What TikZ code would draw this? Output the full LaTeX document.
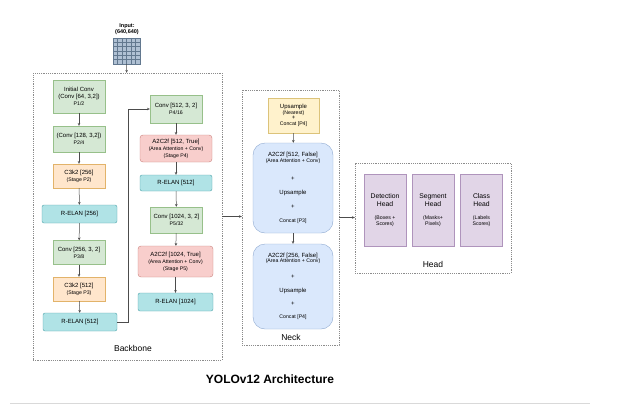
\documentclass[tikz,border=0pt]{standalone}
\usepackage{fontspec}
\setmainfont{Liberation Sans}
\usetikzlibrary{arrows.meta}
\definecolor{convfill}{HTML}{D5E8D4}\definecolor{convline}{HTML}{97C08A}
\definecolor{cfill}{HTML}{FFE6CC}\definecolor{cline}{HTML}{E2B36A}
\definecolor{elanfill}{HTML}{B0E3E6}\definecolor{elanline}{HTML}{4FA3A9}
\definecolor{attnfill}{HTML}{F8CECC}\definecolor{attnline}{HTML}{C9807C}
\definecolor{upfill}{HTML}{FFF2CC}\definecolor{upline}{HTML}{DCC37A}
\definecolor{neckfill}{HTML}{DAE8FC}\definecolor{neckline}{HTML}{8FA9D0}
\definecolor{headfill}{HTML}{E1D5E7}\definecolor{headline}{HTML}{AF94BC}
\definecolor{imgfill}{HTML}{AFC0D3}\definecolor{imgline}{HTML}{62788F}
\newcommand{\smalltxt}[1]{{\fontsize{5.2}{6}\selectfont #1}}
\tikzset{
  box/.style={draw, align=center, inner sep=0pt, font=\fontsize{6}{7}\selectfont},
  kconv/.style={box, fill=convfill, draw=convline, minimum width=52},
  kcsp/.style={box, fill=cfill, draw=cline, minimum width=52, minimum height=24},
  kelan/.style={box, rounded corners=2pt, fill=elanfill, draw=elanline, minimum height=18},
  kattn/.style={box, rounded corners=3pt, fill=attnfill, draw=attnline},
  kup/.style={box, fill=upfill, draw=upline},
  kneck/.style={box, rounded corners=12pt, fill=neckfill, draw=neckline, minimum width=80},
  khead/.style={box, fill=headfill, draw=headline, minimum width=42, minimum height=72, font=\fontsize{6.8}{8}\selectfont},
  group/.style={draw=black!45, dash pattern=on 1.2pt off 1pt, inner sep=0pt},
  grouplbl/.style={font=\fontsize{8.5}{10}\selectfont},
  flow/.style={-{Stealth[length=2.8pt, width=2.6pt]}, draw=black!70, line width=0.5pt},
}

\begin{document}
\begin{tikzpicture}[x=1pt, y=-1pt]
    \useasboundingbox (0,0) rectangle (627,413);
    % containers
    \node[group, minimum width=189, minimum height=287] (backbone) at (127.5,216.5) {};
    \node[group, minimum width=97, minimum height=255] (neck) at (290.5,217.5) {};
    \node[group, minimum width=156, minimum height=110] (headgrp) at (433,218) {};
    \node[grouplbl] (bblbl) at (133,348) {Backbone};
    \node[grouplbl] (necklbl) at (291,337) {Neck};
    \node[grouplbl] (headlbl) at (433,264) {Head};

    % input
    \node[font=\fontsize{5.5}{6}\selectfont\bfseries, align=center] (inlbl) at (127,29) {Input:\\(640,640)};
    \node[draw=imgline, fill=imgfill, minimum width=27, minimum height=26, inner sep=0pt] (img) at (126.5,51) {};
    \foreach \i in {1,...,5} {
      \draw[imgline, line width=0.4pt] ([xshift=\i*4.5pt]img.north west) -- ([xshift=\i*4.5pt]img.south west);
      \draw[imgline, line width=0.4pt] ([yshift=-\i*4.33pt]img.north west) -- ([yshift=-\i*4.33pt]img.north east);
    }
    \draw[flow] (img) -- (backbone);

    % backbone, left column
    \node[kconv, minimum height=33] (init) at (79,96.5) {Initial Conv\\(Conv [64, 3,2])\\\smalltxt{P1/2}};
    \node[kconv, minimum height=26] (conv2) at (79,139) {(Conv [128, 3,2])\\\smalltxt{P2/4}};
    \node[kcsp] (cthree) at (79,176) {C3k2 [256]\\\smalltxt{(Stage P2)}};
    \node[kelan, minimum width=75] (elan1) at (79.5,214) {R-ELAN [256]};
    \node[kconv, minimum height=24] (conv3) at (79,252.5) {Conv [256, 3, 2]\\\smalltxt{P3/8}};
    \node[kcsp] (cfour) at (79,289) {C3k2 [512]\\\smalltxt{(Stage P3)}};
    \node[kelan, minimum width=74] (elan2) at (80,322) {R-ELAN [512]};
    \draw[flow] (init) -- (conv2);
    \draw[flow] (conv2) -- (cthree);
    \draw[flow] (cthree) -- (elan1);
    \draw[flow] (elan1) -- (conv3);
    \draw[flow] (conv3) -- (cfour);
    \draw[flow] (cfour) -- (elan2);

    % backbone, right column
    \node[kconv, minimum height=28] (conv4) at (176,109) {Conv [512, 3, 2]\\\smalltxt{P4/16}};
    \node[kattn, minimum width=72, minimum height=27] (attn1) at (176,148.5) {A2C2f [512, True]\\\smalltxt{(Area Attention + Conv)}\\\smalltxt{(Stage P4)}};
    \node[kelan, minimum width=72, minimum height=16] (elan3) at (176,183) {R-ELAN [512]};
    \node[kconv, minimum height=26] (conv5) at (176.5,220) {Conv [1024, 3, 2]\\\smalltxt{P5/32}};
    \node[kattn, minimum width=75, minimum height=31] (attn2) at (175.5,261.5) {A2C2f [1024, True]\\\smalltxt{(Area Attention + Conv)}\\\smalltxt{(Stage P5)}};
    \node[kelan, minimum width=75] (elan4) at (175.5,302) {R-ELAN [1024]};
    \draw[flow] (elan2.east) -- ++(11,0) |- (conv4.west);
    \draw[flow] (conv4) -- (attn1);
    \draw[flow] (attn1) -- (elan3);
    \draw[flow] (elan3) -- (conv5);
    \draw[flow] (conv5) -- (attn2);
    \draw[flow] (attn2) -- (elan4);

    % neck
    \node[kup, minimum width=51, minimum height=35] (ups) at (293.5,115.5) {Upsample\\[-1pt]\smalltxt{(Nearest)}\\[-2pt]+\\[-1pt]\smalltxt{Concat [P4]}};
    \node[kneck, minimum height=90] (neck1) at (293,188) {A2C2f [512, False]\\[-1.5pt]\smalltxt{(Area Attention + Conv)}\\[11pt]+\\[7pt]Upsample\\[7pt]+\\[7pt]\smalltxt{Concat [P3]}};
    \node[kneck, minimum height=85] (neck2) at (293,286.5) {A2C2f [256, False]\\[-1.5pt]\smalltxt{(Area Attention + Conv)}\\[9pt]+\\[7pt]Upsample\\[6pt]+\\[6pt]\smalltxt{Concat [P4]}};
    \draw[flow] (ups) -- (neck1);
    \draw[flow] (neck1) -- (neck2);

    % head
    \node[khead] (det) at (385,210) {Detection\\Head\\[5pt]\smalltxt{(Boxes +}\\[-1.5pt]\smalltxt{Scores)}};
    \node[khead] (seg) at (433,210) {Segment\\Head\\[5pt]\smalltxt{(Masks+}\\[-1.5pt]\smalltxt{Pixels)}};
    \node[khead] (cls) at (481.5,210) {Class\\Head\\[5pt]\smalltxt{(Labels}\\[-1.5pt]\smalltxt{Scores)}};

    \draw[flow] (backbone.east) -- (backbone.east -| neck.west);
    \draw[flow] (neck.east) -- (neck.east -| headgrp.west);

    % title
    \node[font=\fontsize{12}{14}\selectfont\bfseries] (title) at (270,379) {YOLOv12 Architecture};
    \draw[black!15, line width=0.8pt] (10,403) -- (590,403);
  \end{tikzpicture}
\end{document}
